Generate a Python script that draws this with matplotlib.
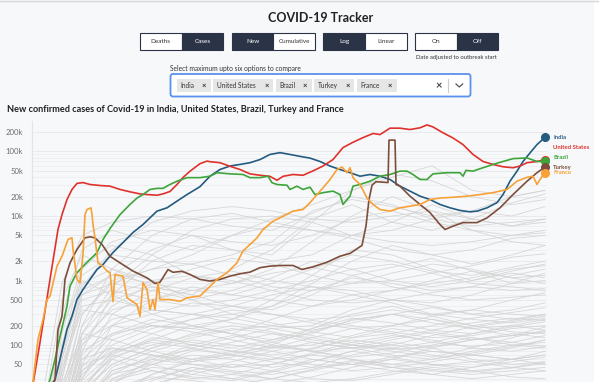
import numpy as np
import matplotlib.pyplot as plt
from matplotlib.patches import Rectangle, FancyBboxPatch

plt.rcParams['font.family'] = ['Lato', 'DejaVu Sans']

# new confirmed cases (7-day average), x = days since start of the series
india_day = [0, 23, 28, 35, 40, 45, 51, 58, 65, 71, 81, 91, 101, 111, 125, 135, 145, 155, 168, 178,
             188, 198, 208, 218, 228, 238, 248, 258, 268, 278, 288, 298, 308, 318, 328, 338, 348, 358,
             368, 378, 388, 398, 408, 418, 428, 438, 445, 455, 465, 471, 478, 485, 491, 498, 505, 513]
india_cases = [10, 29, 60, 174, 280, 507, 725, 1040, 1480, 1770, 2720, 3880, 5550, 7380, 11900, 13400,
               17000, 21500, 28500, 41400, 52600, 59500, 63000, 67000, 75000, 90000, 96000, 90000, 84000,
               79000, 70000, 59500, 52600, 47000, 41400, 44000, 41400, 36800, 29000, 24300, 20300, 18000,
               15100, 13400, 12200, 11600, 11900, 13400, 16100, 21500, 34600, 49600, 70000, 95000,
               128000, 166000]

us_day = [0, 8, 18, 26, 30, 35, 40, 45, 51, 58, 68, 78, 88, 98, 108, 115, 125, 131, 138, 145, 151,
          158, 168, 175, 178, 188, 198, 208, 218, 228, 238, 245, 251, 261, 271, 281, 291, 301, 311, 321,
          331, 341, 348, 358, 368, 378, 388, 395, 401, 411, 421, 431, 441, 451, 461, 471, 481, 488, 495,
          505, 513]
us_cases = [20, 110, 1040, 6180, 10500, 18000, 25800, 32000, 33000, 30800, 29700, 29000, 25800, 23700,
            22000, 21500, 21000, 22000, 24000, 30800, 39500, 49500, 64700, 71000, 69500, 67000, 59000,
            52600, 45000, 42800, 41200, 35800, 41200, 44000, 42800, 50000, 59500, 75000, 115000, 139000,
            164000, 190000, 183000, 230000, 230000, 219000, 233000, 258000, 240000, 195000, 162000,
            128000, 90000, 70000, 63000, 58000, 56000, 59500, 67000, 70000, 75000]

brazil_day = [0, 18, 23, 28, 35, 38, 45, 51, 58, 65, 71, 78, 88, 98, 105, 111, 118, 125, 131, 138, 145,
              155, 168, 178, 185, 198, 211, 218, 228, 236, 240, 245, 255, 258, 265, 271, 278, 283, 291,
              301, 308, 311, 318, 321, 328, 338, 348, 358, 368, 375, 381, 388, 395, 401, 415, 428, 431,
              434, 441, 451, 461, 471, 481, 495, 505, 513]
brazil_cases = [5, 29, 60, 135, 400, 820, 1320, 1660, 2120, 2700, 4320, 6400, 10500, 15100, 19000, 21500,
                25800, 26800, 26800, 30800, 34600, 39300, 39300, 41400, 46900, 45000, 44000, 39300, 39300,
                41400, 32800, 30800, 30000, 25800, 29000, 25800, 28000, 21500, 23000, 24300, 21500, 15100,
                20300, 29000, 30800, 34600, 41400, 44000, 49600, 49600, 44000, 36800, 36800, 45000, 46900,
                46900, 41400, 51000, 49600, 56000, 63000, 70000, 77500, 79500, 70000, 70000]

turkey_day = [0, 23, 25, 26, 30, 33, 38, 45, 53, 58, 63, 70, 78, 88, 101, 115, 123, 128, 136, 141, 150,
              158, 168, 178, 188, 198, 208, 218, 228, 238, 248, 261, 270, 281, 295, 308, 318, 330, 334,
              337, 340, 344, 356, 357, 363, 364, 368, 378, 388, 398, 408, 413, 421, 431, 445, 455, 468,
              481, 495, 505, 513]
turkey_cases = [5, 29, 96, 174, 280, 1040, 1880, 3030, 4580, 4760, 4580, 3620, 2370, 1880, 1400, 1100,
                900, 940, 1480, 1340, 1390, 1240, 1040, 980, 1040, 1170, 1270, 1350, 1580, 1670, 1710,
                1710, 1480, 1630, 1920, 2380, 2630, 3500, 7000, 18000, 30000, 34000, 33000, 150000,
                150000, 30800, 29000, 20300, 15100, 11300, 7380, 6180, 6960, 7900, 7900, 9350, 13400,
                21500, 34600, 46900, 57500]

france_day = [0, 6, 11, 15, 18, 25, 30, 36, 40, 41, 45, 48, 51, 53, 55, 59, 60, 61, 63, 66, 71, 75, 78,
              81, 83, 91, 95, 105, 108, 111, 115, 118, 121, 123, 126, 128, 138, 148, 155, 168, 178, 185,
              195, 205, 211, 218, 225, 231, 241, 251, 261, 271, 278, 285, 291, 298, 305, 310, 315, 318,
              321, 328, 335, 341, 348, 358, 368, 378, 388, 398, 408, 421, 435, 448, 461, 475, 485, 495,
              501, 505, 508, 513]
france_cases = [20, 122, 248, 507, 570, 1670, 2370, 4320, 4600, 3030, 1040, 920, 2530, 10500, 12600,
                13400, 10500, 7380, 4580, 1880, 1660, 1400, 1320, 470, 1240, 1170, 540, 424, 280, 925,
                725, 355, 507, 355, 925, 507, 507, 475, 540, 575, 810, 1040, 1320, 1880, 2870, 3620,
                4580, 6180, 8300, 9900, 11900, 12600, 16100, 21500, 27300, 36800, 52600, 57500, 46900,
                56000, 39300, 30800, 19000, 15100, 12600, 11900, 13400, 14200, 15100, 18000, 19000,
                19500, 20300, 21500, 23000, 25800, 34600, 39800, 41400, 30800, 36800, 47000]

# every other country, sampled coarsely
other_days = [0, 15, 30, 50, 80, 120, 160, 200, 240, 280, 320, 360, 400, 440, 480, 513]
other_cases = [
    [2, 40, 900, 5000, 8000, 10000, 9000, 7000, 6000, 11000, 20000, 15000, 9000, 7000, 8000, 9000],
    [1, 10, 300, 3000, 6000, 4000, 3000, 5000, 9000, 15000, 25000, 40000, 60000, 25000, 20000, 25000],
    [1, 5, 100, 1500, 4000, 6000, 5000, 3000, 2500, 8000, 25000, 45000, 35000, 20000, 15000, 18000],
    [1, 2, 30, 800, 3000, 8000, 12000, 14000, 12000, 9000, 8000, 10000, 12000, 9000, 7000, 8000],
    [1, 1, 10, 200, 1500, 5000, 9000, 11000, 8000, 6000, 5000, 6000, 9000, 12000, 10000, 14000],
    [1, 3, 60, 1200, 2500, 2000, 1800, 2500, 4000, 12000, 18000, 14000, 10000, 12000, 20000, 25000],
    [1, 1, 5, 150, 800, 2500, 6000, 9000, 10000, 8000, 5000, 4000, 3500, 4000, 5000, 6000],
    [1, 20, 500, 2500, 1500, 800, 600, 1500, 3000, 9000, 15000, 8000, 6000, 9000, 16000, 22000],
    [1, 2, 40, 600, 1200, 3000, 5000, 4000, 3500, 5000, 9000, 12000, 8000, 6000, 5000, 5500],
    [1, 1, 15, 300, 1000, 1500, 2500, 5000, 7000, 6000, 4500, 3000, 2500, 3000, 4500, 5000],
    [1, 5, 150, 1800, 3500, 2500, 1200, 900, 1500, 4000, 10000, 20000, 12000, 6000, 4000, 3500],
    [1, 1, 3, 80, 600, 2000, 3500, 3000, 2000, 2500, 5000, 8000, 15000, 9000, 7000, 9000],
    [1, 3, 80, 700, 1200, 900, 700, 600, 900, 1500, 2500, 2000, 1400, 1200, 1600, 2000],
    [1, 1, 20, 300, 900, 1500, 1800, 1200, 800, 700, 900, 1300, 1800, 1500, 1100, 1200],
    [1, 8, 200, 1000, 600, 300, 200, 250, 500, 1200, 3000, 2500, 1500, 1000, 1400, 1800],
    [1, 1, 5, 100, 400, 900, 1500, 2200, 1800, 1200, 900, 1000, 1300, 1700, 2300, 2600],
    [1, 2, 30, 500, 700, 500, 400, 500, 700, 1000, 1500, 1800, 1300, 900, 800, 700],
    [1, 1, 10, 150, 500, 800, 600, 400, 350, 600, 1200, 1600, 2200, 1400, 900, 1000],
    [1, 4, 100, 900, 1500, 1000, 500, 300, 400, 900, 2000, 3500, 2500, 1800, 2500, 3500],
    [1, 1, 3, 50, 300, 700, 1100, 1400, 1000, 800, 600, 700, 900, 1100, 1500, 1700],
    [1, 2, 50, 400, 500, 350, 300, 400, 600, 800, 700, 500, 450, 600, 900, 1300],
    [1, 1, 8, 120, 350, 500, 700, 900, 1300, 1600, 1200, 800, 600, 500, 550, 600],
    [1, 3, 60, 600, 900, 700, 500, 700, 1100, 2000, 1500, 1000, 800, 1000, 1300, 1100],
    [1, 1, 2, 30, 200, 500, 800, 600, 500, 400, 500, 700, 1000, 1400, 1100, 900],
    [1, 2, 40, 350, 300, 200, 180, 250, 400, 700, 1100, 900, 700, 800, 1200, 1500],
    [1, 1, 12, 200, 600, 1000, 1200, 1000, 700, 500, 450, 500, 650, 800, 700, 750],
    [1, 1, 10, 80, 150, 200, 180, 150, 120, 150, 250, 300, 220, 180, 200, 250],
    [1, 1, 3, 40, 100, 180, 250, 300, 220, 160, 130, 150, 200, 260, 320, 380],
    [1, 2, 25, 150, 120, 80, 60, 70, 100, 180, 300, 400, 280, 200, 160, 150],
    [1, 1, 1, 15, 60, 120, 200, 150, 100, 80, 90, 120, 160, 130, 100, 110],
    [1, 1, 5, 60, 90, 70, 50, 45, 60, 90, 120, 100, 80, 70, 90, 120],
    [1, 1, 2, 20, 50, 90, 130, 170, 200, 240, 200, 160, 130, 140, 180, 200],
    [1, 1, 8, 100, 250, 350, 300, 220, 180, 200, 350, 500, 400, 300, 350, 450],
    [1, 1, 1, 10, 40, 60, 50, 40, 35, 45, 70, 90, 70, 55, 60, 70],
    [1, 1, 4, 50, 70, 50, 35, 30, 40, 60, 50, 40, 35, 45, 60, 80],
    [1, 1, 1, 5, 25, 60, 100, 140, 110, 80, 60, 50, 60, 80, 100, 90],
    [1, 1, 6, 70, 200, 300, 450, 400, 300, 250, 280, 350, 300, 250, 220, 260],
    [1, 1, 1, 8, 30, 45, 40, 55, 80, 110, 90, 70, 60, 75, 95, 120],
    [1, 1, 2, 30, 120, 200, 160, 120, 90, 100, 140, 200, 250, 180, 140, 160],
    [1, 1, 1, 3, 15, 35, 60, 80, 65, 50, 40, 45, 55, 70, 60, 50],
    [1, 1, 3, 40, 80, 110, 90, 70, 60, 70, 100, 80, 65, 90, 130, 170],
    [1, 1, 1, 12, 45, 80, 120, 100, 80, 60, 50, 60, 90, 120, 150, 130],
    [1, 1, 2, 25, 60, 40, 30, 35, 50, 70, 60, 45, 40, 35, 40, 45],
    [1, 1, 1, 6, 20, 30, 45, 35, 30, 40, 55, 45, 35, 30, 35, 40],
    [1, 1, 5, 60, 150, 250, 200, 150, 250, 400, 600, 450, 300, 350, 500, 650],
    [1, 1, 1, 20, 80, 150, 250, 350, 300, 220, 180, 200, 280, 350, 300, 280],
    [1, 1, 2, 15, 35, 50, 70, 60, 45, 55, 80, 110, 90, 60, 50, 55],
    [1, 1, 1, 4, 12, 25, 35, 50, 40, 30, 28, 35, 45, 40, 32, 30],
    [1, 1, 2, 20, 70, 130, 110, 90, 120, 180, 260, 220, 170, 150, 190, 230],
    [1, 1, 1, 6, 25, 50, 80, 110, 150, 130, 100, 85, 95, 120, 140, 160],
    [1, 1, 3, 35, 90, 70, 55, 65, 90, 130, 180, 150, 110, 95, 110, 140],
    [1, 1, 1, 9, 35, 70, 60, 45, 50, 75, 110, 140, 120, 90, 80, 95],
    [1, 1, 4, 45, 140, 220, 300, 260, 200, 170, 220, 300, 380, 300, 250, 300],
    [1, 1, 1, 3, 10, 22, 40, 30, 25, 32, 45, 60, 50, 40, 45, 55],
    [1, 1, 2, 18, 50, 90, 150, 200, 160, 120, 100, 130, 170, 220, 260, 240],
    [1, 1, 1, 7, 28, 40, 32, 28, 38, 55, 80, 65, 50, 45, 55, 65],
    [1, 2, 20, 120, 200, 150, 100, 80, 110, 160, 240, 300, 250, 200, 240, 300],
    [1, 1, 1, 5, 18, 35, 55, 75, 95, 80, 65, 75, 100, 130, 110, 95],
    [1, 1, 2, 12, 40, 65, 85, 70, 55, 45, 50, 65, 80, 70, 60, 70],
    [1, 1, 1, 10, 30, 55, 90, 130, 180, 140, 110, 90, 110, 150, 200, 170],
    [1, 1, 3, 28, 75, 120, 100, 80, 70, 85, 130, 180, 150, 120, 140, 190],
    [1, 1, 1, 4, 14, 28, 45, 38, 30, 26, 30, 38, 48, 55, 45, 40],
    [1, 1, 2, 22, 65, 100, 140, 180, 150, 110, 90, 100, 140, 190, 230, 280],
    [1, 1, 1, 8, 22, 32, 28, 24, 30, 42, 58, 50, 42, 38, 44, 52],
]

countries = ['India', 'United States', 'Brazil', 'Turkey', 'France']
colors = ['#245b80', '#e0322c', '#3da53a', '#7d4e3b', '#f7a136']
label_offsets = [0, 12, 4, -1, 0]   # pixels up from the end point

ytick_vals = [50, 100, 200, 500, 1000, 2000, 5000, 10000, 20000, 50000, 100000, 200000]
ytick_labels = ['50', '100', '200', '500', '1k', '2k', '5k', '10k', '20k', '50k', '100k', '200k']

bg = '#f7f8fa'
dark = '#2b3447'

fig = plt.figure(figsize=(5.99, 3.82), dpi=100, facecolor=bg)

# ---------- page / controls (pixel coordinates) ----------
ui = fig.add_axes([0, 0, 1, 1])
ui.set_xlim(0, 599)
ui.set_ylim(382, 0)
ui.axis('off')
ui.add_patch(Rectangle((594, 0), 5, 382, color='white', lw=0))
ui.plot([0, 599], [1, 1], color='#d6d6d6', lw=1)

ui.text(321, 18, 'COVID-19 Tracker', ha='center', va='center', fontsize=9,
        weight='bold', color='#222222')

buttons = [('Deaths', 'Cases', 1), ('New', 'Cumulative', 0), ('Log', 'Linear', 0), ('On', 'Off', 1)]
bx = [140, 231.7, 323.3, 415]
bw = 41.7
for (a, b, act), x0 in zip(buttons, bx):
    for k, lab in enumerate([a, b]):
        on = (k == act)
        ui.add_patch(Rectangle((x0 + k * bw, 32.5), bw, 17.5, facecolor=dark if on else 'white',
                               edgecolor=dark, lw=0.8))
        ui.text(x0 + k * bw + bw / 2, 41.3, lab, ha='center', va='center', fontsize=4.6,
                color='white' if on else '#333333')
ui.text(415.5, 57, 'Date adjusted to outbreak start', ha='left', va='center', fontsize=4.2,
        color='#333333')

ui.text(170, 68.5, 'Select maximum upto six options to compare', ha='left', va='center',
        fontsize=4.8, color='#333333')
ui.add_patch(FancyBboxPatch((170.5, 74), 300, 22.5, boxstyle='round,pad=0,rounding_size=2.5',
                            facecolor='white', edgecolor='#5a90ee', lw=1.3))
tag_x = [176.7, 212.7, 275.7, 314.3, 356.7]
tag_w = [34, 60.6, 36, 39.7, 40]
for name, x0, w in zip(countries, tag_x, tag_w):
    ui.add_patch(Rectangle((x0, 78.5), w, 13.3, facecolor='#e6e6e6', lw=0))
    ui.text(x0 + 4, 85.3, name, ha='left', va='center', fontsize=4.7, color='#333333')
    ui.text(x0 + w - 6.5, 85.3, '×', ha='center', va='center', fontsize=5.5, weight='bold',
            color='#333333')
ui.text(438.5, 85.3, '×', ha='center', va='center', fontsize=8, weight='bold', color='#444444')
ui.plot([448.3, 448.3], [79, 91.5], color='#cccccc', lw=0.8)
ui.plot([456, 459.3, 462.6], [84, 87, 84], color='#555555', lw=0.9)

ui.text(7, 110, 'New confirmed cases of Covid-19 in ' + ', '.join(countries[:-1]) + ' and ' + countries[-1],
        ha='left', va='center', fontsize=6.6, weight='bold', color='#222222')

# ---------- chart ----------
ax = fig.add_axes([32 / 599, 0, 515 / 599, 261 / 382])
ax.patch.set_visible(False)
ax.set_yscale('log')
ax.set_xlim(0, 515)
ax.set_ylim(26.7, 297000)

for dec in [10, 100, 1000, 10000, 100000]:
    for m in range(1, 10):
        v = dec * m
        if 26.7 < v < 297000:
            ax.axhline(v, color='#e6e8ec' if v in ytick_vals else '#eceef1', lw=0.6, zorder=0)

for vals in other_cases:
    ax.plot(other_days, vals, color='#d3d3d3', lw=0.6, alpha=0.9, zorder=1)

series = [(india_day, india_cases), (us_day, us_cases), (brazil_day, brazil_cases),
          (turkey_day, turkey_cases), (france_day, france_cases)]
for (d, c), name, col, off in zip(series, countries, colors, label_offsets):
    ax.plot(d, c, color=col, lw=1.2, zorder=3, solid_joinstyle='round')
    ax.plot(d[-1], c[-1], 'o', color=col, ms=5.5, zorder=4, clip_on=False)
    ax.annotate(name, (d[-1], c[-1]), xytext=(8, off), textcoords='offset pixels',
                ha='left', va='center', fontsize=4.3, weight='bold', color=col,
                annotation_clip=False)

ax.set_yticks(ytick_vals)
ax.set_yticklabels(ytick_labels)
ax.minorticks_off()
ax.tick_params(axis='y', length=0, pad=6.5, labelsize=5.6, labelcolor='#6e6e6e')
ax.set_xticks([])
for s in ['top', 'right', 'bottom']:
    ax.spines[s].set_visible(False)
ax.spines['left'].set_color('#e4e4e4')
ax.spines['left'].set_linewidth(0.8)

fig.savefig('out.png', dpi=100, facecolor=bg)
